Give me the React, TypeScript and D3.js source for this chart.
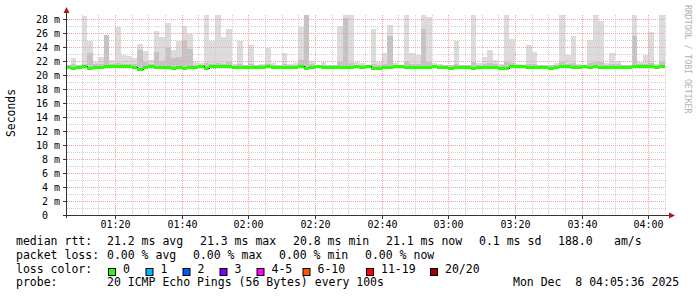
import * as d3 from "d3";

const W = 697;
const H = 297;
const plot = { left: 67, right: 667, top: 15, bottom: 215 };

const startTime = new Date(2025, 11, 8, 1, 5, 36);
const endTime = new Date(2025, 11, 8, 4, 5, 36);
const firstStep = new Date(2025, 11, 8, 1, 5, 0);
const stepMs = 100 * 1000;

// median rtt per 100s step (ms)
const median = [
  21.2, 21.05, 21.2, 21.3, 21.0, 21.2, 21.2, 21.25, 21.3, 21.3,
  21.3, 21.25, 21.2, 20.9, 21.2, 21.25, 21.2, 21.2, 21.15, 21.05,
  21.2, 21.05, 21.15, 21.2, 21.3, 21.0, 21.3, 21.3, 21.3, 21.25,
  21.2, 21.1, 21.2, 21.2, 21.1, 21.15, 21.25, 21.2, 21.15, 21.1,
  21.2, 21.2, 21.25, 20.95, 21.2, 21.25, 21.2, 21.2, 21.1, 21.2,
  21.1, 21.2, 21.25, 21.2, 21.3, 21.0, 20.95, 21.2, 21.2, 21.25,
  21.25, 21.2, 21.15, 21.2, 21.1, 21.2, 21.25, 21.2, 21.2, 21.05,
  21.2, 21.2, 21.2, 21.05, 21.2, 21.2, 21.2, 21.1, 20.95, 21.0,
  21.25, 21.3, 21.25, 21.2, 21.2, 21.15, 21.15, 21.05, 21.15, 21.3,
  21.25, 21.1, 21.2, 21.25, 21.2, 21.25, 21.2, 21.2, 21.15, 21.1,
  21.15, 21.2, 21.3, 21.3, 21.25, 21.25, 21.2, 21.25,
];

// slowest ping of each step (top of the smoke)
const smokeHi = [
  21.4, 22.4, 21.5, 28.5, 24.9, 21.9, 22.6, 25.7, 22.2, 26.9,
  22.9, 22.7, 22.4, 24.5, 23.5, 22.1, 26.3, 25.5, 27.4, 23.6,
  24.8, 27.0, 25.9, 21.9, 21.7, 28.6, 24.9, 28.6, 25.5, 26.6,
  21.6, 24.8, 21.5, 24.3, 21.4, 21.6, 23.9, 21.7, 21.4, 23.1,
  21.6, 21.7, 26.8, 28.6, 22.0, 21.4, 21.9, 21.4, 21.5, 27.0,
  28.6, 28.6, 21.9, 21.7, 21.5, 26.6, 21.8, 23.2, 27.1, 21.7,
  21.5, 28.6, 23.1, 22.9, 28.6, 28.3, 21.7, 21.6, 21.4, 21.4,
  24.9, 21.5, 21.4, 28.6, 21.7, 22.6, 23.6, 22.2, 21.6, 28.6,
  25.2, 21.6, 21.5, 24.3, 23.3, 21.4, 21.4, 21.4, 21.7, 28.6,
  22.9, 25.6, 21.6, 21.4, 25.0, 28.6, 27.7, 21.7, 23.2, 22.0,
  21.4, 21.4, 28.6, 21.9, 22.9, 26.1, 21.6, 28.6,
];

// upper edge of the denser (darker) part of the smoke
const smokeMid = [
  21.4, 21.6, 21.5, 21.6, 23.2, 21.6, 21.6, 25.7, 21.6, 21.7,
  21.6, 21.6, 21.6, 23.6, 21.8, 21.6, 23.3, 22.0, 23.8, 22.4,
  22.6, 25.0, 23.7, 21.5, 21.5, 21.7, 21.6, 21.7, 21.6, 21.8,
  21.5, 21.6, 21.5, 21.6, 21.4, 21.5, 21.6, 21.5, 21.4, 21.6,
  21.5, 21.5, 22.2, 28.6, 21.6, 21.4, 21.5, 21.4, 21.4, 21.8,
  28.2, 21.7, 21.5, 21.5, 21.5, 21.6, 21.5, 21.6, 25.6, 21.5,
  21.5, 21.9, 21.6, 21.6, 26.6, 21.8, 21.5, 21.5, 21.4, 21.4,
  21.6, 21.5, 21.4, 21.9, 21.5, 21.6, 21.7, 21.6, 21.5, 21.8,
  21.7, 21.5, 21.5, 21.6, 21.6, 21.4, 21.4, 21.4, 21.5, 21.8,
  21.6, 21.7, 21.5, 21.4, 21.7, 21.8, 21.8, 21.5, 21.6, 21.6,
  21.4, 21.4, 25.6, 21.6, 21.6, 21.7, 21.5, 21.8,
];

const yTicks = d3.range(2, 29, 2);
const yMinor = d3.range(1, 29, 2);

const rttLabels = ["21.2 ms avg", "21.3 ms max", "20.8 ms min", "21.1 ms now", "0.1 ms sd", "188.0", "am/s"];
const rttX = [107, 200, 293, 386, 479, 558, 614];
const lossLabels = ["0.00 % avg", "0.00 % max", "0.00 % min", "0.00 % now"];
const lossX = [107, 193, 279, 365];
const lossColorLabels = ["0", "1", "2", "3", "4-5", "6-10", "11-19", "20/20"];
const lossColors = ["#26ff00", "#00b8ff", "#0059ff", "#7e00ff", "#ff00ff", "#ff5500", "#ff0000", "#a00000"];
const lossBoxX = [108, 145.5, 182.5, 219.5, 256.5, 302.5, 366, 430];

const mono = "'DejaVu Sans Mono', monospace";

export default function App() {
  const x = d3.scaleTime().domain([startTime, endTime]).range([plot.left, plot.right]);
  const y = d3.scaleLinear().domain([0, 200 / 7]).range([plot.bottom, plot.top]);

  const sx = (k: number) =>
    Math.max(plot.left, Math.min(plot.right, Math.round(x(new Date(firstStep.getTime() + k * stepMs)))));
  const py = (v: number) => Math.round(y(v));

  const steps = median.map((m, k) => ({ k, m, hi: smokeHi[k], mid: smokeMid[k], x0: sx(k), x1: sx(k + 1) }));

  const minorX = x.ticks(d3.timeMinute.every(5)!);
  const majorX = x.ticks(d3.timeMinute.every(20)!);
  const fmt = d3.timeFormat("%H:%M");

  // black median step line (shows only at the step edges)
  const medPts: [number, number][] = [];
  steps.forEach((s) => medPts.push([s.x0, py(s.m) + 0.5]));
  const last = steps[steps.length - 1];
  medPts.push([last.x1, py(last.m) + 0.5]);
  const medLine = d3.line().curve(d3.curveStepAfter)(medPts) ?? "";

  return (
    <svg width={W} height={H} style={{ position: "absolute", left: 0, top: 0, background: "#fff" }}>
      <rect x={0} y={0} width={W} height={H} fill="#fff" />

      {/* smoke */}
      <g shapeRendering="crispEdges">
        {steps.map((s) => (
          <rect key={"h" + s.k} x={s.x0} y={py(s.hi)} width={s.x1 - s.x0}
            height={Math.max(0, py(s.m) - py(s.hi))} fill="#dcdcdc" />
        ))}
        {steps.map((s) => (
          <rect key={"m" + s.k} x={s.x0} y={py(s.mid)} width={s.x1 - s.x0}
            height={Math.max(0, py(s.m) - py(s.mid))} fill="#c4c4c4" />
        ))}
      </g>

      {/* grid */}
      <g strokeDasharray="1,1" strokeWidth={1} fill="none">
        {yMinor.map((v) => (
          <line key={"ym" + v} x1={plot.left} x2={plot.right} y1={py(v) + 0.5} y2={py(v) + 0.5} stroke="#cfcfcf" />
        ))}
        {minorX.filter((t) => t.getMinutes() % 20 !== 0).map((t) => (
          <line key={"xm" + t.getTime()} x1={Math.round(x(t)) + 0.5} x2={Math.round(x(t)) + 0.5}
            y1={plot.top} y2={plot.bottom} stroke="#cfcfcf" />
        ))}
        {yTicks.map((v) => (
          <line key={"yM" + v} x1={plot.left} x2={plot.right} y1={py(v) + 0.5} y2={py(v) + 0.5} stroke="#eea4a4" />
        ))}
        {majorX.map((t) => (
          <line key={"xM" + t.getTime()} x1={Math.round(x(t)) + 0.5} x2={Math.round(x(t)) + 0.5}
            y1={plot.top} y2={plot.bottom} stroke="#eea4a4" />
        ))}
      </g>

      {/* median */}
      <path d={medLine} fill="none" stroke="#202020" strokeWidth={1} shapeRendering="crispEdges" />
      <g shapeRendering="crispEdges">
        {steps.map((s) => (
          <rect key={"g" + s.k} x={s.x0} y={py(s.m) - 1} width={s.x1 - s.x0} height={3} fill={lossColors[0]} />
        ))}
      </g>

      {/* axes */}
      <g stroke="#333" shapeRendering="crispEdges">
        <line x1={plot.left - 0.5} x2={plot.left - 0.5} y1={11} y2={plot.bottom + 3} />
        <line x1={plot.left - 4} x2={plot.right + 3} y1={plot.bottom + 0.5} y2={plot.bottom + 0.5} />
        {[0, ...yTicks].map((v) => (
          <line key={"yt" + v} x1={plot.left - 4} x2={plot.left} y1={py(v) + 0.5} y2={py(v) + 0.5} />
        ))}
        {majorX.map((t) => (
          <line key={"xt" + t.getTime()} x1={Math.round(x(t)) + 0.5} x2={Math.round(x(t)) + 0.5}
            y1={plot.bottom} y2={plot.bottom + 4} />
        ))}
      </g>
      <path d={`M${plot.left - 3.5},13 L${plot.left - 0.5},7 L${plot.left + 2.5},13 Z`} fill="#a01c1c" />
      <path d={`M${plot.right + 2},${plot.bottom - 2.5} L${plot.right + 8},${plot.bottom + 0.5} L${plot.right + 2},${plot.bottom + 3.5} Z`} fill="#a01c1c" />

      {/* y labels */}
      <g fontFamily={mono} fontSize={10} fill="#000">
        {[0, ...yTicks].map((v) => (
          <g key={"yl" + v}>
            <text x={48} y={py(v) + 3.5} textAnchor="end">{v}</text>
            {v !== 0 && <text x={54} y={py(v) + 3.5}>m</text>}
          </g>
        ))}
        {majorX.map((t) => (
          <text key={"xl" + t.getTime()} x={Math.round(x(t)) + 0.5} y={228} textAnchor="middle">{fmt(t)}</text>
        ))}
      </g>

      <text transform="translate(15,113) rotate(-90)" textAnchor="middle" fontFamily={mono} fontSize={11.4} fill="#000">
        Seconds
      </text>
      <text transform="translate(685,5) rotate(90)" fontFamily={mono} fontSize={8.2} fill="#b0b0b0">
        RRDTOOL / TOBI OETIKER
      </text>

      {/* legend */}
      <g fontFamily={mono} fontSize={11.5} fill="#000">
        <text x={16} y={245}>median rtt:</text>
        {rttLabels.map((s, i) => (
          <text key={"r" + i} x={rttX[i]} y={245}>{s}</text>
        ))}
        <text x={16} y={258.5}>packet loss:</text>
        {lossLabels.map((s, i) => (
          <text key={"l" + i} x={lossX[i]} y={258.5}>{s}</text>
        ))}
        <text x={16} y={272.5}>loss color:</text>
        {lossColorLabels.map((s, i) => (
          <g key={"c" + i}>
            <rect x={lossBoxX[i] + 0.5} y={268.5} width={7} height={7} fill={lossColors[i]} stroke="#000" strokeWidth={1} />
            <text x={lossBoxX[i] + 15} y={272.5}>{s}</text>
          </g>
        ))}
        <text x={16} y={286}>probe:</text>
        <text x={107} y={286}>20 ICMP Echo Pings (56 Bytes) every 100s</text>
        <text x={513} y={286} xmlSpace="preserve" style={{ whiteSpace: "pre" }}>{"Mon Dec  8 04:05:36 2025"}</text>
      </g>
    </svg>
  );
}
